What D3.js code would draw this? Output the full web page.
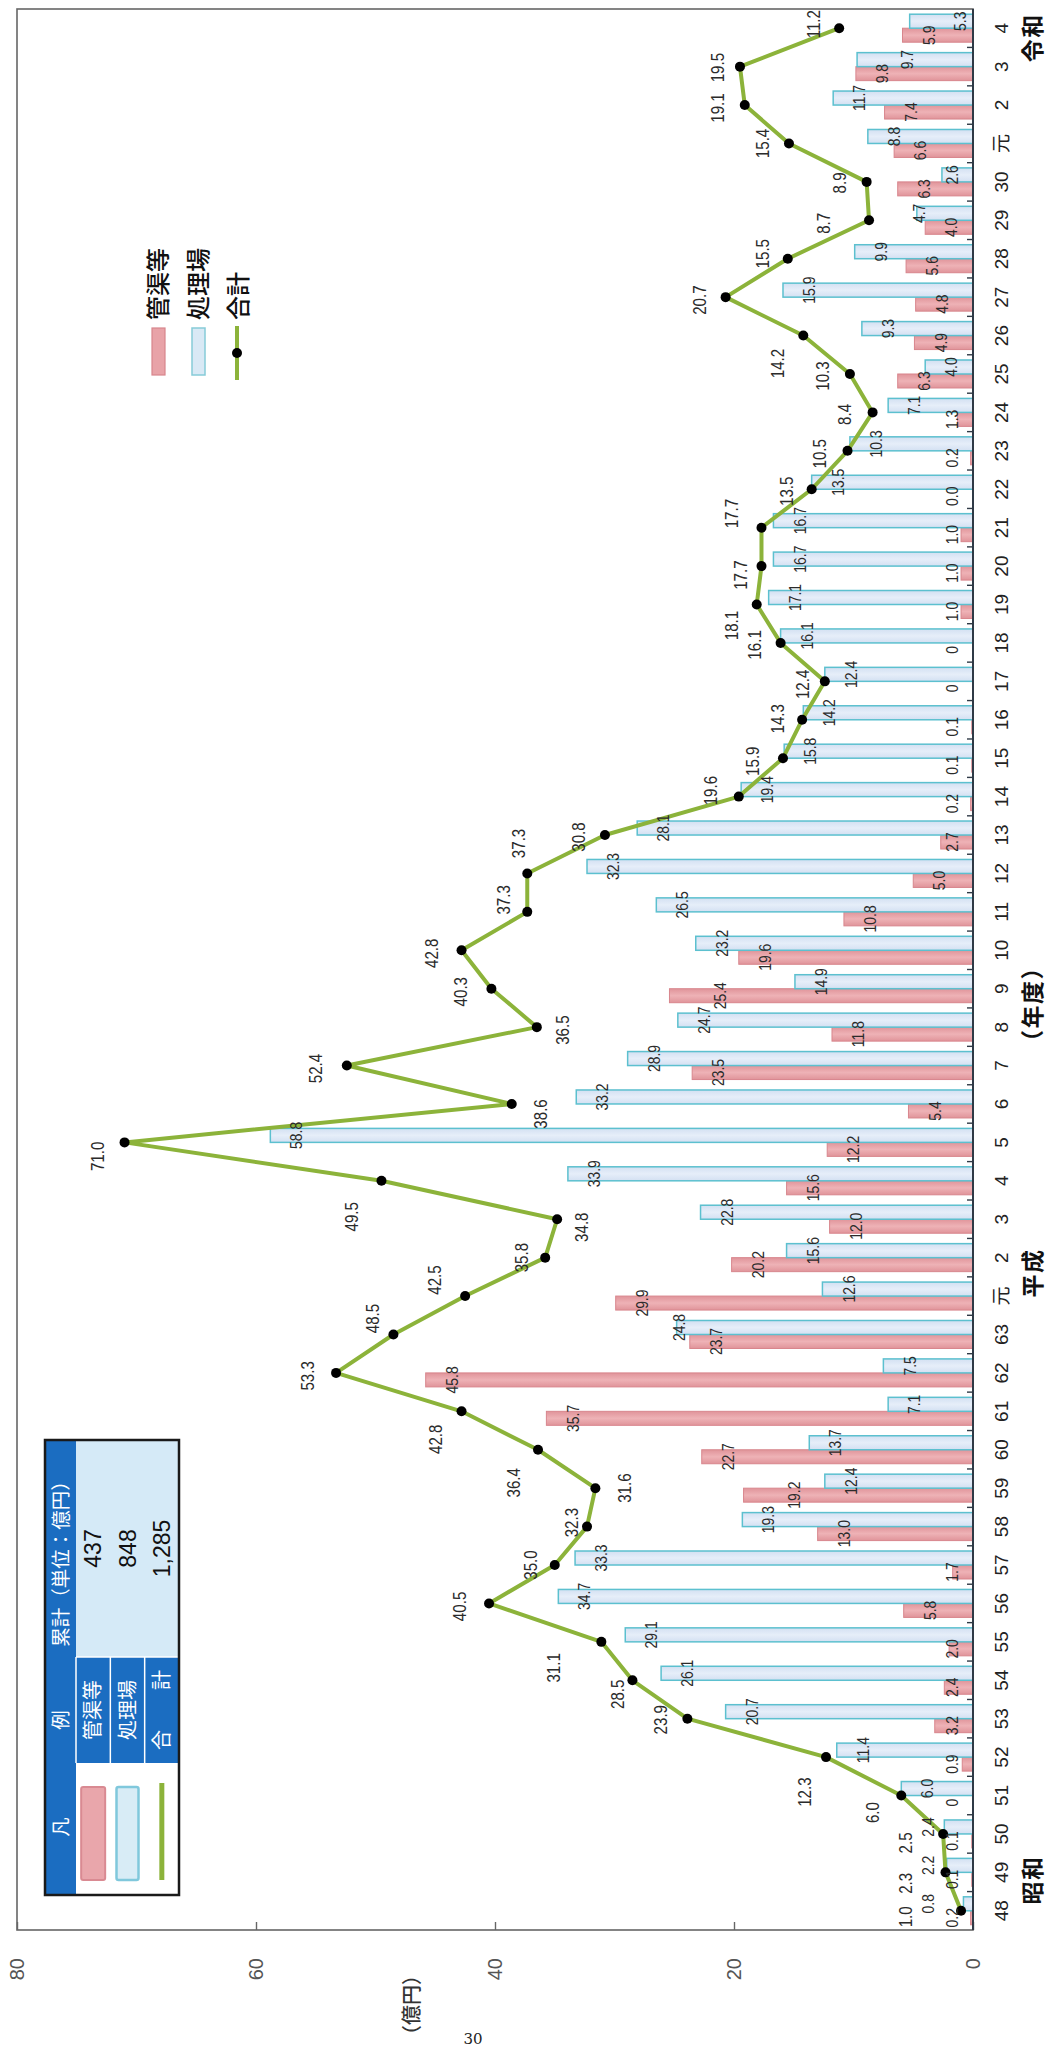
<!DOCTYPE html>
<html>
<head>
<meta charset="utf-8">
<script src="https://cdn.jsdelivr.net/npm/d3@7"></script>
<style>
  html, body { margin: 0; padding: 0; background: #fff; }
  svg { display: block; }
</style>
</head>
<body>
<svg id="chart" width="1055" height="2047"></svg>
<script>
// Fiscal years (昭和48 … 令和4)
const years = ["48","49","50","51","52","53","54","55","56","57","58","59","60","61","62","63",
  "元","2","3","4","5","6","7","8","9","10","11","12","13","14","15","16","17","18","19","20",
  "21","22","23","24","25","26","27","28","29","30",
  "元","2","3","4"];

// 管渠等 (億円)
const pipes = [0.2,0.1,0.1,0,0.9,3.2,2.4,2.0,5.8,1.7,13.0,19.2,22.7,35.7,45.8,23.7,
  29.9,20.2,12.0,15.6,12.2,5.4,23.5,11.8,25.4,19.6,10.8,5.0,2.7,0.2,0.1,0.1,0,0,1.0,1.0,
  1.0,0.0,0.2,1.3,6.3,4.9,4.8,5.6,4.0,6.3,
  6.6,7.4,9.8,5.9];

// 処理場 (億円)
const plants = [0.8,2.2,2.4,6.0,11.4,20.7,26.1,29.1,34.7,33.3,19.3,12.4,13.7,7.1,7.5,24.8,
  12.6,15.6,22.8,33.9,58.8,33.2,28.9,24.7,14.9,23.2,26.5,32.3,28.1,19.4,15.8,14.2,12.4,16.1,17.1,16.7,
  16.7,13.5,10.3,7.1,4.0,9.3,15.9,9.9,4.7,2.6,
  8.8,11.7,9.7,5.3];

// 合計 (億円)
const totals = [1.0,2.3,2.5,6.0,12.3,23.9,28.5,31.1,40.5,35.0,32.3,31.6,36.4,42.8,53.3,48.5,
  42.5,35.8,34.8,49.5,71.0,38.6,52.4,36.5,40.3,42.8,37.3,37.3,30.8,19.6,15.9,14.3,12.4,16.1,18.1,17.7,
  17.7,13.5,10.5,8.4,10.3,14.2,20.7,15.5,8.7,8.9,
  15.4,19.1,19.5,11.2];

// zero values printed with one decimal
const zeroWithDecimal = [37];

// value axis ticks
const valueTicks = [0, 20, 40, 60, 80];

// cumulative totals (累計)
const cumulative = ["437", "848", "1,285"];

// era / unit labels placed along the year axis (fractional year index)
const eraLabels = [
  { text: "昭和", at: 0.8 },
  { text: "平成", at: 16.6 },
  { text: "（年度）", at: 23.6 },
  { text: "令和", at: 48.75 }
];

// hand-tuned nudges [dx, dy] for the 合計 labels
const totalNudge = [
  [-6,-56],[-11,-40],[-9,-38],[-17,-29],[-35,-21],[-1,-27],[-14,-15],[-26,-48],[-3,-30],[0,-24],
  [4,-15],[0,29],[-33,-25],[-28,-26],[-3,-29],[16,-21],[16,-31],[0,-24],[-8,24],[-36,-30],
  [-14,-27],[-10,29],[-3,-31],[-3,26],[-3,-31],[-3,-30],[12,-24],[30,-9],[-2,-26],[6,-28],
  [-3,-30],[1,-25],[-3,-22],[-2,-26],[-21,-25],[-9,-21],[14,-30],[-2,-25],[-3,-28],[-2,-28],
  [-2,-27],[-28,-26],[-3,-26],[5,-25],[-3,-46],[-1,-27],[0,-26],[-3,-27],[-1,-22],[4,-26]
];

const W = 1055, H = 2047;
const NUM_FONT = "'Liberation Sans', Arial, 'Noto Sans CJK JP', sans-serif";
const JP_FONT = "'Noto Sans CJK JP', 'Noto Sans', sans-serif";
const C = {
  pipeStroke: "#d8868d",
  line: "#8cb33a",
  frame: "#666",
  axis: "#2f3a46",
  text: "#2b2b2b",
  tableBlue: "#1b6dc1",
  tableLight: "#d5eaf7"
};

const svg = d3.select("#chart");
const defs = svg.append("defs");

const gradPipe = defs.append("linearGradient").attr("id", "gradPipe")
  .attr("x1", 0).attr("x2", 1).attr("y1", 0).attr("y2", 0);
gradPipe.selectAll("stop")
  .data([[0, "#e0949a"], [0.5, "#eeb2b6"], [1, "#e0949a"]])
  .join("stop").attr("offset", d => d[0]).attr("stop-color", d => d[1]);

const gradPlant = defs.append("linearGradient").attr("id", "gradPlant")
  .attr("x1", 0).attr("x2", 1).attr("y1", 0).attr("y2", 0);
gradPlant.selectAll("stop")
  .data([[0, "#d3e0f2"], [0.5, "#e6eef9"], [1, "#d3e0f2"]])
  .join("stop").attr("offset", d => d[0]).attr("stop-color", d => d[1]);

// the whole chart is laid out sideways: years run up the page
const g = svg.append("g").attr("transform", `translate(0,${H}) rotate(-90)`);

const plot = { left: 117, right: 2038, top: 17, bottom: 973 };

const x = d3.scaleBand().domain(d3.range(years.length)).range([plot.left, plot.right]);
const y = d3.scaleLinear().domain([0, 80]).range([plot.bottom, plot.top]);
const sub = d3.scaleBand().domain(["pipe", "plant"])
  .range([x.bandwidth() / 2 - 14, x.bandwidth() / 2 + 14]);
const cx = i => x(i) + x.bandwidth() / 2;

// frame
g.append("rect")
  .attr("x", plot.left).attr("y", plot.top)
  .attr("width", plot.right - plot.left).attr("height", plot.bottom - plot.top)
  .attr("fill", "none").attr("stroke", C.frame).attr("stroke-width", 1.6);

// value axis
g.append("g")
  .attr("transform", `translate(${plot.left},0)`)
  .call(d3.axisLeft(y).tickValues(valueTicks).tickSize(-8).tickPadding(28).tickFormat(d3.format("d")))
  .call(a => a.select(".domain").remove())
  .call(a => a.selectAll("line").attr("stroke", C.frame).attr("stroke-width", 1.4))
  .call(a => a.selectAll("text").attr("font-family", NUM_FONT).attr("font-size", 20).attr("fill", "#555"));

g.append("text")
  .attr("x", 42).attr("y", 412).attr("dy", "0.35em")
  .attr("text-anchor", "middle")
  .attr("font-family", JP_FONT).attr("font-size", 20).attr("font-weight", 500).attr("fill", "#333")
  .text("（億円）");

// bars
const barW = sub.bandwidth();
g.append("g").selectAll("rect")
  .data(pipes)
  .join("rect")
  .attr("x", (d, i) => x(i) + sub("pipe"))
  .attr("y", d => y(d))
  .attr("width", barW)
  .attr("height", d => y(0) - y(d))
  .attr("fill", "url(#gradPipe)")
  .attr("stroke", C.pipeStroke).attr("stroke-width", 1);

g.append("g").selectAll("rect")
  .data(plants)
  .join("rect")
  .attr("x", (d, i) => x(i) + sub("plant"))
  .attr("y", d => y(d))
  .attr("width", barW)
  .attr("height", d => y(0) - y(d))
  .attr("fill", "url(#gradPlant)")
  .attr("stroke", "#5cc0cf").attr("stroke-width", 1.5);

// year axis
g.append("line")
  .attr("x1", plot.left).attr("x2", plot.right)
  .attr("y1", plot.bottom).attr("y2", plot.bottom)
  .attr("stroke", C.axis).attr("stroke-width", 2);

g.append("g").selectAll("line")
  .data(d3.range(1, years.length))
  .join("line")
  .attr("x1", i => x.range()[0] + i * x.step())
  .attr("x2", i => x.range()[0] + i * x.step())
  .attr("y1", plot.bottom).attr("y2", plot.bottom - 6)
  .attr("stroke", C.axis).attr("stroke-width", 1.4);

g.append("g")
  .attr("transform", `translate(0,${plot.bottom})`)
  .call(d3.axisBottom(x).tickSize(0).tickPadding(22).tickFormat(i => years[i]))
  .call(a => a.select(".domain").remove())
  .call(a => a.selectAll("text").attr("font-family", NUM_FONT).attr("font-size", 19).attr("fill", "#222"));

g.append("g").selectAll("text")
  .data(eraLabels)
  .join("text")
  .attr("x", d => x.range()[0] + (d.at + 0.5) * x.step())
  .attr("y", 1033).attr("dy", "0.36em")
  .attr("text-anchor", "middle")
  .attr("font-family", JP_FONT).attr("font-size", 23).attr("font-weight", 700)
  .attr("letter-spacing", 1.5).attr("fill", "#111")
  .text(d => d.text);

// total line
const line = d3.line().x((d, i) => cx(i)).y(d => y(d));
g.append("path")
  .datum(totals)
  .attr("d", line)
  .attr("fill", "none").attr("stroke", C.line)
  .attr("stroke-width", 4).attr("stroke-linejoin", "round");

g.append("g").selectAll("circle")
  .data(totals)
  .join("circle")
  .attr("cx", (d, i) => cx(i)).attr("cy", d => y(d)).attr("r", 5)
  .attr("fill", "#000");

// bar value labels (condensed), placed inside the bar tops and kept apart
const LBL = { size: 17, squeeze: 0.82, h: 14 };
const probe = g.append("text").attr("font-family", NUM_FONT).attr("font-size", LBL.size);
const textW = s => { probe.text(s); return probe.node().getComputedTextLength() * LBL.squeeze; };
const fmt = (v, i) => v === 0 && !zeroWithDecimal.includes(i) ? "0" : v.toFixed(1);

const placed = [];
years.forEach((yr, i) => {
  [["pipe", pipes[i]], ["plant", plants[i]]].forEach(([key, v]) => {
    const txt = key === "pipe" ? fmt(v, i) : v.toFixed(1);
    const px = x(i) + sub(key) + barW / 2;
    const w = textW(txt);
    const len = y(0) - y(v);
    const d0 = Math.max(len - 26, 21);
    const clash = d => placed.some(p => Math.abs(p.px - px) < (p.w + w) / 2 + 0.5 && Math.abs(p.d - d) < LBL.h);
    const tries = [d0, d0 - 24, d0 + 24, d0 + 48].filter(d => d >= 10);
    const d = tries.find(t => !clash(t)) ?? d0;
    placed.push({ px, d, w, txt });
  });
});
probe.remove();

g.append("g").selectAll("text")
  .data(placed)
  .join("text")
  .attr("transform", d => `translate(${d.px},${y(0) - d.d}) scale(${LBL.squeeze},1)`)
  .attr("dy", "0.36em")
  .attr("text-anchor", "middle")
  .attr("font-family", NUM_FONT).attr("font-size", LBL.size).attr("fill", C.text)
  .text(d => d.txt);

// total labels
g.append("g").selectAll("text")
  .data(totals)
  .join("text")
  .attr("transform", (d, i) => `translate(${cx(i) + totalNudge[i][0]},${y(d) + totalNudge[i][1]}) scale(0.84,1)`)
  .attr("dy", "0.36em")
  .attr("text-anchor", "middle")
  .attr("font-family", NUM_FONT).attr("font-size", 18).attr("fill", C.text)
  .text(d => d.toFixed(1));

// series legend
const legend = g.append("g");
legend.append("rect").attr("x", 1672).attr("y", 152).attr("width", 47).attr("height", 13)
  .attr("fill", "#e8a3a8").attr("stroke", C.pipeStroke).attr("stroke-width", 1.2);
legend.append("rect").attr("x", 1672).attr("y", 192).attr("width", 47).attr("height", 13)
  .attr("fill", "#d9e9f5").attr("stroke", "#86cbd8").attr("stroke-width", 1.5);
legend.append("line").attr("x1", 1667).attr("x2", 1721).attr("y1", 237).attr("y2", 237)
  .attr("stroke", C.line).attr("stroke-width", 4);
legend.append("circle").attr("cx", 1694).attr("cy", 237).attr("r", 5).attr("fill", "#000");
legend.selectAll("text.lg")
  .data([["管渠等", 158], ["処理場", 198], ["合計", 238]])
  .join("text").attr("class", "lg")
  .attr("x", 1727).attr("y", d => d[1]).attr("dy", "0.36em")
  .attr("font-family", JP_FONT).attr("font-size", 24).attr("font-weight", 500).attr("fill", "#111")
  .text(d => d[0]);

// 凡例 / 累計 table
const T = { x: 152, y: 45, w: 455, h: 134, head: 31, c1: 284, c2: 390 };
const rowH = (T.h - T.head) / 3;
const rowMid = k => T.y + T.head + rowH * (k + 0.5);
const tbl = g.append("g");
tbl.append("rect").attr("x", T.x).attr("y", T.y).attr("width", T.w).attr("height", T.h).attr("fill", "#fff");
tbl.append("rect").attr("x", T.x).attr("y", T.y).attr("width", T.w).attr("height", T.head).attr("fill", C.tableBlue);
tbl.append("rect").attr("x", T.c1).attr("y", T.y + T.head).attr("width", T.c2 - T.c1).attr("height", T.h - T.head).attr("fill", C.tableBlue);
tbl.append("rect").attr("x", T.c2).attr("y", T.y + T.head).attr("width", T.x + T.w - T.c2).attr("height", T.h - T.head).attr("fill", C.tableLight);
tbl.selectAll("line.div")
  .data([0, 1, 2])
  .join("line").attr("class", "div")
  .attr("x1", T.c1).attr("x2", T.c2)
  .attr("y1", k => T.y + T.head + rowH * k).attr("y2", k => T.y + T.head + rowH * k)
  .attr("stroke", "#fff").attr("stroke-width", 1.5);
tbl.append("line").attr("x1", T.c2).attr("x2", T.c2).attr("y1", T.y + T.head).attr("y2", T.y + T.h)
  .attr("stroke", "#fff").attr("stroke-width", 1.5);

tbl.append("rect").attr("x", 167).attr("y", rowMid(0) - 12).attr("width", 93).attr("height", 24).attr("rx", 2)
  .attr("fill", "#e9a6ab").attr("stroke", "#d98a92").attr("stroke-width", 2);
tbl.append("rect").attr("x", 167).attr("y", rowMid(1) - 11).attr("width", 93).attr("height", 22).attr("rx", 2)
  .attr("fill", "#d8ecf6").attr("stroke", "#80c8dc").attr("stroke-width", 2.5);
tbl.append("line").attr("x1", 167).attr("x2", 264).attr("y1", rowMid(2)).attr("y2", rowMid(2))
  .attr("stroke", C.line).attr("stroke-width", 5);

const headText = [["凡", 220], ["例", 327], ["累計（単位：億円）", 488]];
tbl.selectAll("text.hd")
  .data(headText)
  .join("text").attr("class", "hd")
  .attr("x", d => d[1]).attr("y", T.y + T.head / 2).attr("dy", "0.36em")
  .attr("text-anchor", "middle")
  .attr("font-family", JP_FONT).attr("font-size", 19.5).attr("fill", "#fff")
  .text(d => d[0]);

tbl.selectAll("text.nm")
  .data(["管渠等", "処理場", "合　　計"])
  .join("text").attr("class", "nm")
  .attr("x", (T.c1 + T.c2) / 2).attr("y", (d, k) => rowMid(k)).attr("dy", "0.36em")
  .attr("text-anchor", "middle")
  .attr("font-family", JP_FONT).attr("font-size", 20).attr("fill", "#fff")
  .text(d => d);

tbl.selectAll("text.val")
  .data(cumulative)
  .join("text").attr("class", "val")
  .attr("x", (T.c2 + T.x + T.w) / 2).attr("y", (d, k) => rowMid(k)).attr("dy", "0.36em")
  .attr("text-anchor", "middle")
  .attr("font-family", NUM_FONT).attr("font-size", 23).attr("fill", "#111")
  .text(d => d);

tbl.append("rect").attr("x", T.x).attr("y", T.y).attr("width", T.w).attr("height", T.h)
  .attr("fill", "none").attr("stroke", "#1a1a1a").attr("stroke-width", 2.5);

// page number
svg.append("text")
  .attr("x", 473).attr("y", 2044)
  .attr("text-anchor", "middle")
  .attr("font-family", "'DejaVu Serif', serif").attr("font-size", 15).attr("fill", "#222")
  .text("30");
</script>
</body>
</html>
